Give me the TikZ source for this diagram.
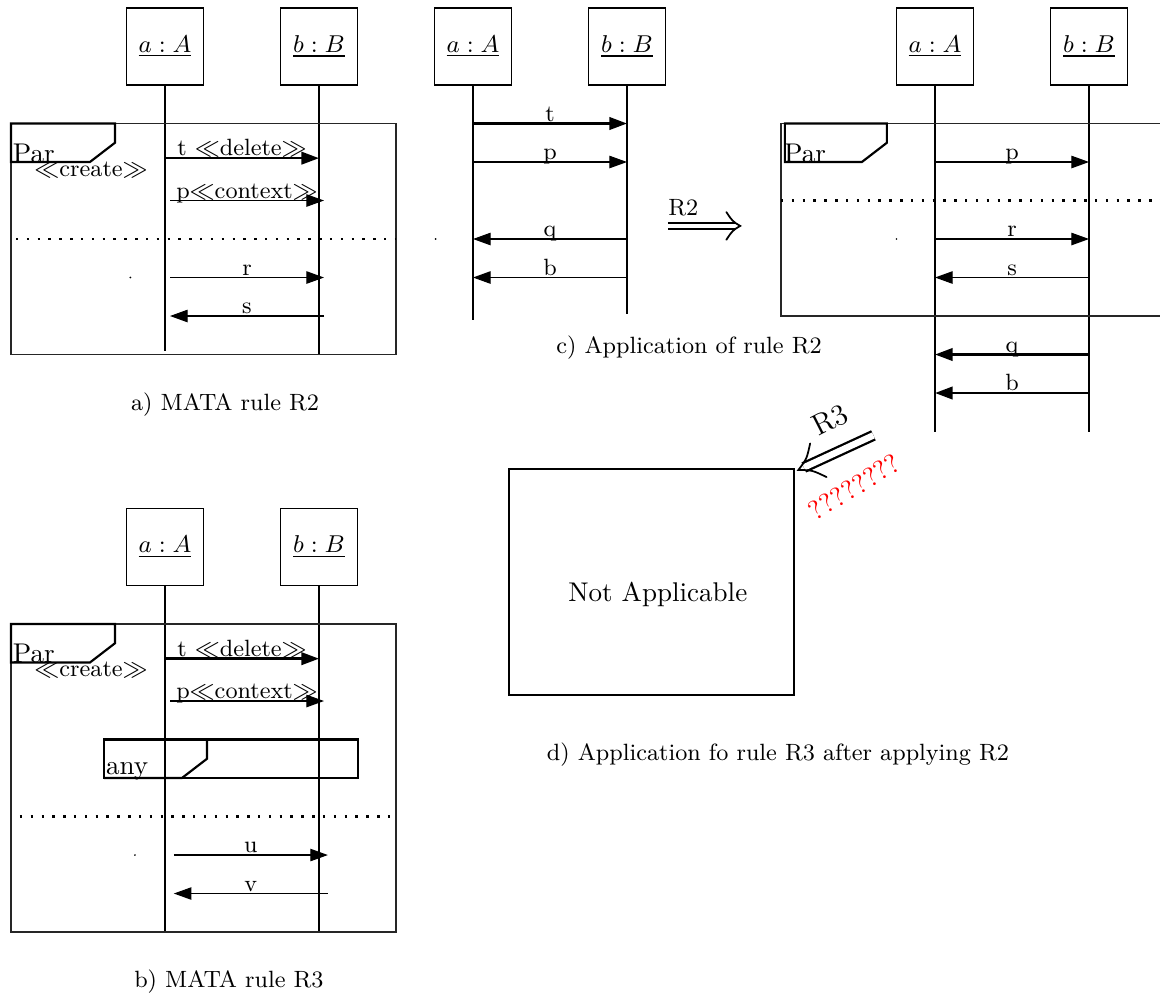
\documentclass[tikz,border=0pt]{standalone}
\usepackage{amsmath}
\usepackage{amssymb}
\usepackage{tikz}
\usetikzlibrary{arrows.meta,positioning,calc}

\begin{document}
\begin{tikzpicture}[x=.5cm,y=.5cm,font=\fontsize{10}{12}\selectfont,
 obj/.style={draw,minimum width=1cm,minimum height=1cm,inner sep=0pt,font=\fontsize{9}{11}\selectfont},
 frm/.style={draw=black!85,line width=.4pt},
 tabline/.style={line width=.8pt},
 msg/.style={-{Triangle[length=6.5pt,width=4.6pt]},line width=.4pt},
 thk/.style={line width=.9pt},
 lab/.style={font=\fontsize{8.7}{10}\selectfont,anchor=base,inner sep=0pt,yshift=.8pt},
 capt/.style={font=\fontsize{8.7}{10}\selectfont},
 sepline/.style={line width=.9pt,dash pattern=on .9pt off 3.1pt},
 impl/.style={double,double distance=1.7pt,line width=.6pt,shorten >=1.4pt},
 implhead/.pic={\draw[line width=.65pt,line cap=round]
  (-.36,.36) .. controls (-.2,.12) .. (0,0) .. controls (-.2,-.12) .. (-.36,-.36);}]
\useasboundingbox (-0.2857,0.2078) rectangle (29.844,-25.688);

% a) MATA rule R2
\node[obj] (A1) at (4,-1) {\underline{$a:A$}};
\node[obj] (B1) at (8,-1) {\underline{$b:B$}};
\draw (A1.south) -- (A1 |- 0,-8.9);
\draw (B1.south) -- (B1 |- 0,-9);
\draw[frm] (0,-3) rectangle (10,-9);
\draw[tabline] (0,-3) -- ++(2.7,0) -- ++(0,-.5) -- ++(-.65,-.5) -- ++(-2.05,0) -- cycle;
\node[anchor=base west,inner sep=.5pt] (par1) at (0,-4) {Par};
\node[lab] (cr1) at (2.08,-4.42) {$\ll$create$\gg$};
\foreach \y/\d/\w/\f/\g/\l in {3.9/0/thk/A1/B1/{t $\ll$delete$\gg$},5/.13/thin/A1/B1/{p$\ll$context$\gg$},
 7/.13/thin/A1/B1/r,8/.13/thin/B1/A1/s}
 \draw[msg,\w] ($(\f |- 0,-\y)+(\d,0)$) -- node[lab]{\l} ($(\g |- 0,-\y)+(\d,0)$);
\draw[sepline] (.13,-6) -- (10,-6);
\fill (3.1,-7) circle (.35pt);
\node[capt] (capa) at (5.56,-10.29) {a) MATA rule R2};

% b) MATA rule R3
\node[obj] (A2) at (4,-14) {\underline{$a:A$}};
\node[obj] (B2) at (8,-14) {\underline{$b:B$}};
\draw (A2.south) -- (A2 |- 0,-24);
\draw (B2.south) -- (B2 |- 0,-24);
\draw[frm] (0,-16) rectangle (10,-24);
\draw[tabline] (0,-16) -- ++(2.7,0) -- ++(0,-.5) -- ++(-.65,-.5) -- ++(-2.05,0) -- cycle;
\node[anchor=base west,inner sep=.5pt] (par2) at (0,-17) {Par};
\node[lab] (cr2) at (2.08,-17.42) {$\ll$create$\gg$};
\foreach \y/\d/\w/\f/\g/\l in {16.9/0/thk/A2/B2/{t $\ll$delete$\gg$},18/.13/thin/A2/B2/{p$\ll$context$\gg$},
 22/.23/thin/A2/B2/u,23/.23/thin/B2/A2/v}
 \draw[msg,\w] ($(\f |- 0,-\y)+(\d,0)$) -- node[lab]{\l} ($(\g |- 0,-\y)+(\d,0)$);
\draw[tabline] (2.42,-19) rectangle (9.01,-20);
\draw[tabline] (2.42,-19) -- ++(2.67,0) -- ++(0,-.5) -- ++(-.65,-.5) -- (2.42,-20);
\node[anchor=base west,inner sep=.5pt] (any) at (2.42,-19.9) {any};
\draw[sepline] (.23,-21) -- (10,-21);
\fill (3.22,-22) circle (.35pt);
\node[capt] (capb) at (5.66,-25.3) {b) MATA rule R3};

% c) application of R2
\node[obj] (A3) at (12,-1) {\underline{$a:A$}};
\node[obj] (B3) at (16,-1) {\underline{$b:B$}};
\draw (A3.south) -- (A3 |- 0,-8.1);
\draw (B3.south) -- (B3 |- 0,-7.95);
\foreach \y/\w/\f/\g/\l in {3/thk/A3/B3/t,4/thin/A3/B3/p,6/thin/B3/A3/q,7/thin/B3/A3/b}
 \draw[msg,\w] (\f |- 0,-\y) -- node[lab]{\l} (\g |- 0,-\y);
\fill (11.03,-6) circle (.35pt);
\coordinate (r2s) at (17.06,-5.66);
\coordinate (r2e) at (18.94,-5.66);
\draw[impl] (r2s) -- (r2e);
\pic at (r2e) {implhead};
\node[capt,anchor=base west,inner sep=0pt] (r2) at (17.06,-5.4) {R2};
\node[capt] (capc) at (17.61,-8.83) {c) Application of rule R2};

\node[obj] (A4) at (24,-1) {\underline{$a:A$}};
\node[obj] (B4) at (28,-1) {\underline{$b:B$}};
\draw (A4.south) -- (A4 |- 0,-11);
\draw (B4.south) -- (B4 |- 0,-11);
\draw[frm] (20,-3) rectangle (30,-8);
\draw[tabline] (20.1,-3) -- ++(2.65,0) -- ++(0,-.5) -- ++(-.65,-.5) -- ++(-2,0) -- cycle;
\node[anchor=base west,inner sep=.5pt] (par4) at (20.03,-4) {Par};
\foreach \y/\w/\f/\g/\l in {4/thin/A4/B4/p,6/thin/A4/B4/r,7/thin/B4/A4/s,9/thk/B4/A4/q,10/thk/B4/A4/b}
 \draw[msg,\w] (\f |- 0,-\y) -- node[lab]{\l} (\g |- 0,-\y);
\draw[sepline] (20,-5) -- (30,-5);
\fill (23,-6) circle (.35pt);

% d) R3 after R2
\node[draw,line width=.9pt,minimum width=3.7cm,minimum height=2.935cm] (na) at (16.64,-14.905) {};
\node (natxt) at (16.8,-15.22) {Not Applicable};
\coordinate (r3s) at (22.4,-11.1);
\coordinate (r3e) at ([shift={(.08,-.06)}]na.north east);
\draw[impl,double distance=2.4pt,line width=.85pt,shorten >=2.2pt] (r3s) -- (r3e);
\pic[rotate=206,xscale=1.6,yscale=1.35] at (r3e) {implhead};
\node[rotate=27,font=\fontsize{11}{13}\selectfont] (r3) at (21.27,-10.7) {R3};
\node[rotate=31,text=red] (qq) at (21.9,-12.44) {????????};
\node[capt] (capd) at (19.92,-19.38) {d) Application fo rule R3 after applying R2};
\end{tikzpicture}
\end{document}
